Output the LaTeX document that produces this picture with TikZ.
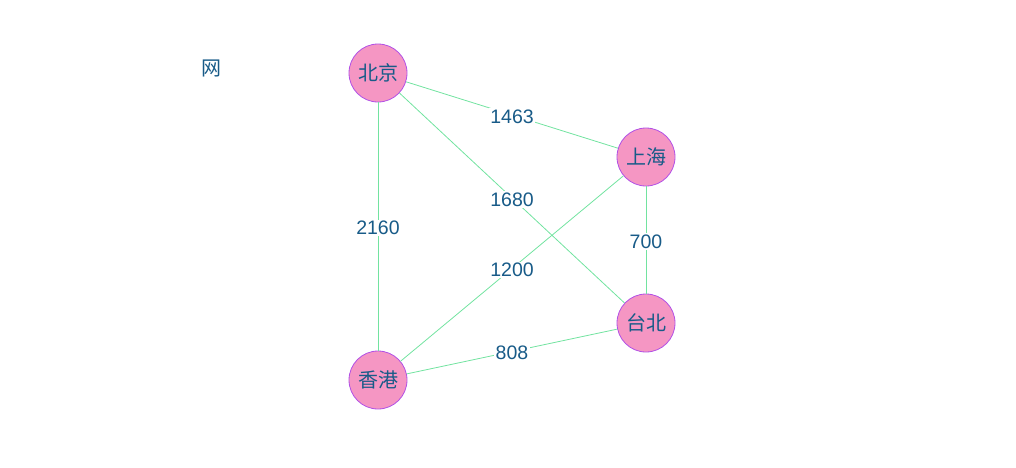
\documentclass[tikz,border=0pt]{standalone}
\usepackage{fontspec}
\setmainfont{Liberation Sans}
\newfontfamily\cjk{Noto Sans CJK SC}
\definecolor{txt}{HTML}{185B88}
\definecolor{nodefill}{HTML}{F596C3}
\definecolor{nodeborder}{HTML}{B150E6}
\definecolor{edge}{HTML}{72E3A0}
\begin{document}
\begin{tikzpicture}[x=1pt,y=-1pt,
  city/.style={circle,draw=nodeborder,fill=nodefill,line width=0.8pt,minimum size=58pt,inner sep=0pt,text=txt,font=\cjk\fontsize{20}{20}\selectfont},
  link/.style={draw=edge,line width=0.8pt},
  elabel/.style={fill=white,inner sep=1.5pt,yshift=-1.5pt,text=txt,font=\fontsize{19.5}{19.5}\selectfont}]
\useasboundingbox (0,0) rectangle (1016,467);
\node[text=txt,font=\cjk\fontsize{20}{20}\selectfont] (title) at (211,68) {网};
\node[city] (bj) at (378,73) {北京};
\node[city] (sh) at (646,157) {上海};
\node[city] (tb) at (646,323) {台北};
\node[city] (hk) at (378,380) {香港};
\path[link] (bj) -- node[elabel,pos=0.5] {1463} (sh);
\path[link] (bj) -- node[elabel,pos=0.5] {1680} (tb);
\path[link] (sh) -- node[elabel,pos=0.5] {1200} (hk);
\path[link] (bj) -- node[elabel,pos=0.5] {2160} (hk);
\path[link] (sh) -- node[elabel,pos=0.5] {700} (tb);
\path[link] (hk) -- node[elabel,pos=0.5] {808} (tb);
\end{tikzpicture}
\end{document}
